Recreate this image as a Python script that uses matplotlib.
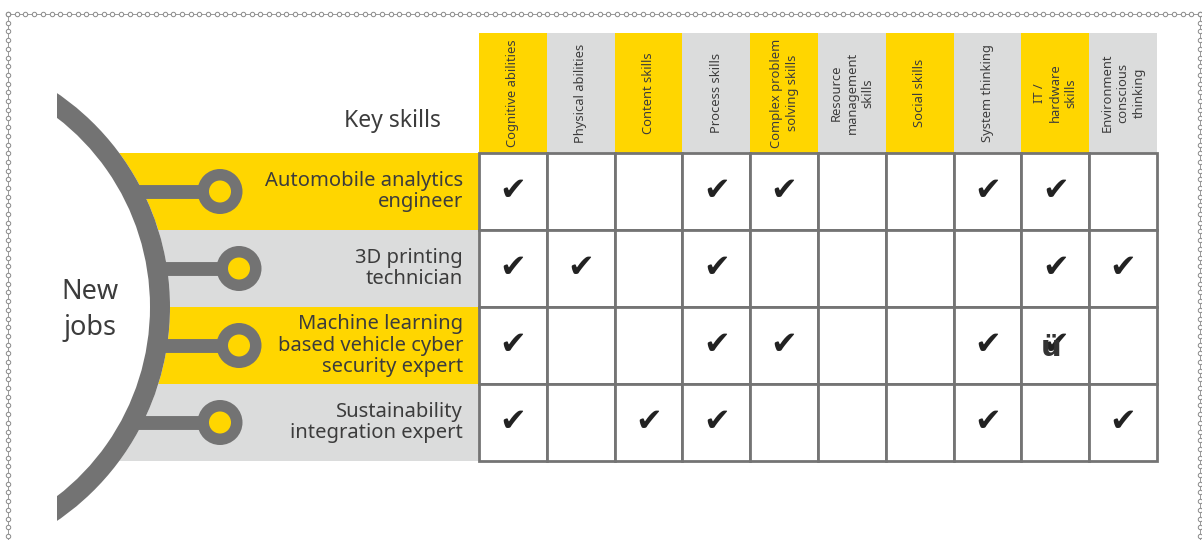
import matplotlib
matplotlib.use('Agg')
import numpy as np
from matplotlib import pyplot as plt
from matplotlib.patches import Rectangle, Circle, Wedge

plt.rcParams['font.family'] = ['Noto Sans', 'DejaVu Sans']

# skills (column headers) and new jobs (rows)
skills = ['Cognitive abilities', 'Physical abilities', 'Content skills', 'Process skills',
          'Complex problem\nsolving skills', 'Resource\nmanagement\nskills', 'Social skills',
          'System thinking', 'IT /\nhardware\nskills', 'Environment\nconscious\nthinking']
jobs = ['Automobile analytics\nengineer', '3D printing\ntechnician',
        'Machine learning\nbased vehicle cyber\nsecurity expert', 'Sustainability\nintegration expert']
# 1 = check mark, 2 = check mark with the stray "ü" glyph from the original
checks = [
    [1, 0, 0, 1, 1, 0, 0, 1, 1, 0],
    [1, 1, 0, 1, 0, 0, 0, 0, 1, 1],
    [1, 0, 0, 1, 1, 0, 0, 1, 2, 0],
    [1, 0, 1, 1, 0, 0, 0, 1, 0, 1],
]

YELLOW = '#FFD600'
LIGHT = '#DBDCDC'
DARK = '#737373'
TEXT = '#3c3c3c'

fig = plt.figure(figsize=(12.02, 5.4), dpi=100)
ax = fig.add_axes([0, 0, 1, 1])
ax.set_xlim(0, 1202)
ax.set_ylim(540, 0)
ax.axis('off')

# layout
gx0, gx1 = 479, 1157
hy0, gy0, gy1 = 33, 153, 461
ncol, nrow = len(skills), len(jobs)
cw = (gx1 - gx0) / ncol
rh = (gy1 - gy0) / nrow

# row bands behind the job titles
for i in range(nrow):
    col = YELLOW if i % 2 == 0 else LIGHT
    ax.add_patch(Rectangle((0, gy0 + i * rh), gx0, rh, facecolor=col, edgecolor='none', zorder=1))

# big arc
cx, cy, R, W = -89, 307, 259, 20
ax.add_patch(Circle((cx, cy), R, facecolor='white', edgecolor='none', zorder=2))
clip = Rectangle((57, 0), 1200, 540, transform=ax.transData)
arc = Wedge((cx, cy), R, -70, 70, width=W, facecolor=DARK, edgecolor='none', zorder=3)
ax.add_patch(arc)
arc.set_clip_path(clip)

# connectors and nodes
node_x = [220, 239, 239, 220]
for i in range(nrow):
    yc = gy0 + (i + 0.5) * rh
    x_start = cx + np.sqrt((R - W / 2) ** 2 - (yc - cy) ** 2)
    ax.plot([x_start, node_x[i]], [yc, yc], color=DARK, lw=10, solid_capstyle='butt', zorder=3)
    ax.add_patch(Circle((node_x[i], yc), 22.5, facecolor=DARK, edgecolor='none', zorder=4))
    ax.add_patch(Circle((node_x[i], yc), 11, facecolor=YELLOW, edgecolor='none', zorder=5))
    ax.text(463, yc, jobs[i], ha='right', va='center', fontsize=14.5, color=TEXT,
            linespacing=1.1, zorder=6)

ax.text(90, 310, 'New\njobs', ha='center', va='center', fontsize=19.5, color=TEXT,
        linespacing=1.35, zorder=6)
ax.text(441, 127, 'Key skills', ha='right', va='baseline', fontsize=16.5, color=TEXT, zorder=6)

# header cells
for j in range(ncol):
    col = YELLOW if j % 2 == 0 else LIGHT
    x = gx0 + j * cw
    ax.add_patch(Rectangle((x, hy0), cw, gy0 - hy0, facecolor=col, edgecolor='none', zorder=1))
    ax.text(x + cw / 2, (hy0 + gy0) / 2, skills[j], rotation=90, ha='center', va='center',
            multialignment='center', fontsize=9.3, color=TEXT, linespacing=1.3, zorder=6)

# grid with checks
for i in range(nrow):
    for j in range(ncol):
        x = gx0 + j * cw
        y = gy0 + i * rh
        ax.add_patch(Rectangle((x, y), cw, rh, facecolor='white', edgecolor='#747474',
                               lw=2, zorder=2))
        v = checks[i][j]
        if v:
            ax.text(x + cw / 2, y + rh / 2, '\u2714', ha='center', va='center', fontsize=23,
                    color='#222222', family='DejaVu Sans', zorder=6)
        if v == 2:
            ax.text(x + cw / 2 - 4, y + rh / 2 + 2, '\u00fc', ha='center', va='center',
                    fontsize=21, fontweight='bold', color='#333333',
                    family=['Liberation Sans Narrow', 'DejaVu Sans'], zorder=7)

# dotted chain border
bx0, by0, bx1 = 8, 14, 1200
for xs, ys in [([bx0, bx1], [by0, by0]), ([bx0, bx0], [by0, 540]), ([bx1, bx1], [by0, 540])]:
    ax.plot(xs, ys, color='#8a8a8a', lw=0.6, zorder=8)
n_top = int((bx1 - bx0) / 8.7)
ax.plot([bx0 + k * 8.7 for k in range(n_top + 1)], [by0] * (n_top + 1), 'o', ms=3.2,
        mfc='white', mec='#8a8a8a', mew=0.7, zorder=9)
n_side = int((540 - by0) / 8.7)
for xb in (bx0, bx1):
    ax.plot([xb] * (n_side + 1), [by0 + k * 8.7 for k in range(n_side + 1)], 'o', ms=3.2,
            mfc='white', mec='#8a8a8a', mew=0.7, zorder=9)

plt.savefig('out.png', dpi=100)
